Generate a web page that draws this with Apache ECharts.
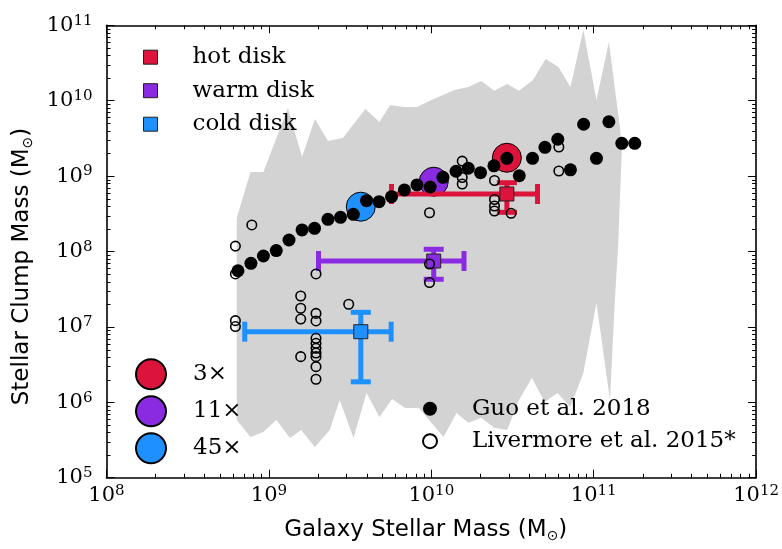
<!DOCTYPE html>
<html><head><meta charset="utf-8">
<script src="https://cdn.jsdelivr.net/npm/echarts@6/dist/echarts.min.js"></script>
<style>html,body{margin:0;padding:0;background:#fff}#c{width:782px;height:549px}</style>
</head><body><div id="c"></div>
<script>
// ---------- data ----------
const xDecades = [8, 9, 10, 11, 12];
const yDecades = [5, 6, 7, 8, 9, 10, 11];
const minorSteps = [2, 3, 4, 5, 6, 7, 8, 9];

// grey envelope (upper edge left->right, then lower edge left->right)
const bandUpperMass  = [6.34e8, 7.7e8, 9.25e8, 1.31e9, 1.6e9, 1.92e9, 2.31e9, 2.85e9, 3.93e9, 4.79e9, 5.58e9, 6.8e9, 8.2e9, 1.0e10, 1.39e10, 1.69e10, 2.03e10, 2.44e10, 2.93e10, 3.47e10, 4.22e10, 5.06e10, 6.07e10, 7.19e10, 8.63e10, 1.04e11, 1.24e11, 1.45e11, 1.49e11, 1.41e11, 1.35e11];
const bandUpperClump = [2.78e8, 1.13e9, 1.13e9, 8.0e9, 1.79e9, 5.7e9, 2.92e9, 3.2e9, 7.76e9, 5.2e9, 8.77e9, 8.25e9, 8.25e9, 1.02e10, 1.39e10, 1.52e10, 1.83e10, 1.35e10, 1.67e10, 1.35e10, 1.88e10, 3.57e10, 2.8e10, 1.52e10, 8.67e10, 1.02e10, 6.0e10, 4.48e9, 2.22e9, 1.05e8, 2.28e7];
const bandLowerMass  = [6.34e8, 7.7e8, 9.25e8, 1.11e9, 1.35e9, 1.58e9, 1.92e9, 2.37e9, 2.73e9, 3.32e9, 3.99e9, 4.79e9, 5.74e9, 6.89e9, 8.39e9, 1.0e10, 1.19e10, 1.43e10, 1.69e10, 2.03e10, 2.44e10, 2.93e10, 3.47e10, 4.16e10, 4.99e10, 5.98e10, 7.19e10, 8.63e10, 1.04e11, 1.26e11];
const bandLowerClump = [5.82e5, 3.47e5, 4.04e5, 5.82e5, 3.36e5, 4.3e5, 2.55e5, 4.3e5, 1.07e6, 3.36e5, 1.33e6, 6.38e5, 1.11e6, 8.4e5, 8.4e5, 5.34e5, 3.47e5, 7.22e5, 5.34e5, 6.22e5, 4.58e5, 4.3e5, 1.07e6, 2.1e6, 1.01e6, 1.33e6, 8.67e5, 2.45e6, 2.07e7, 1.07e6];

// Guo et al. 2018
const guoMass  = [6.45e8, 7.75e8, 9.25e8, 1.11e9, 1.33e9, 1.60e9, 1.91e9, 2.31e9, 2.76e9, 3.31e9, 3.99e9, 4.77e9, 5.69e9, 6.83e9, 8.16e9, 9.84e9, 1.18e10, 1.42e10, 1.69e10, 2.01e10, 2.43e10, 2.92e10, 3.48e10, 4.20e10, 5.01e10, 6.01e10, 7.19e10, 8.67e10, 1.04e11, 1.24e11, 1.49e11, 1.79e11];
const guoClump = [5.56e7, 6.97e7, 8.71e7, 1.03e8, 1.42e8, 1.93e8, 2.03e8, 2.67e8, 2.84e8, 3.11e8, 4.72e8, 4.58e8, 5.33e8, 6.55e8, 7.63e8, 7.17e8, 9.64e8, 1.16e9, 1.27e9, 1.11e9, 1.37e9, 1.72e9, 1.01e9, 1.72e9, 2.41e9, 3.08e9, 1.21e9, 4.87e9, 1.72e9, 5.26e9, 2.72e9, 2.72e9];

// Livermore et al. 2015*
const livMass  = [7.85e8, 6.22e8, 6.22e8, 6.22e8, 6.22e8, 1.57e9, 1.57e9, 1.57e9, 1.57e9, 1.95e9, 1.95e9, 1.95e9, 1.95e9, 1.95e9, 1.95e9, 1.95e9, 1.95e9, 1.95e9, 1.95e9, 3.10e9, 9.75e9, 9.75e9, 9.75e9, 1.55e10, 1.55e10, 1.55e10, 2.45e10, 2.45e10, 2.45e10, 2.45e10, 3.10e10, 6.10e10, 6.10e10];
const livClump = [2.25e8, 1.18e8, 5.04e7, 1.21e7, 1.01e7, 2.57e7, 1.77e7, 1.27e7, 4.03e6, 5.04e7, 1.51e7, 1.20e7, 7.06e6, 6.06e6, 5.2e6, 4.51e6, 4.03e6, 2.97e6, 2.02e6, 2.0e7, 3.27e8, 6.83e7, 3.88e7, 1.58e9, 9.57e8, 7.85e8, 8.74e8, 4.9e8, 4.01e8, 3.44e8, 3.21e8, 2.43e9, 1.17e9];

// disk samples with error bars
const diskNames   = ['hot disk', 'warm disk', 'cold disk'];
const diskMass    = [2.92e10, 1.035e10, 3.68e9];
const diskClump   = [5.79e8, 7.48e7, 8.63e6];
const diskMassLo  = [5.69e9, 2.02e9, 7.1e8];
const diskMassHi  = [4.51e10, 1.59e10, 5.66e9];
const diskClumpLo = [3.31e8, 4.28e7, 1.87e6];
const diskClumpHi = [8.17e8, 1.07e8, 1.56e7];

// stacked clumps (big circles)
const stackNames = ['3×', '11×', '45×'];
const stackMass  = [2.92e10, 1.035e10, 3.68e9];
const stackClump = [1.75e9, 8.43e8, 3.93e8];

// ---------- styles ----------
const palette = ['#DC143C', '#8A2BE2', '#1E90FF'];
const SERIF = 'DejaVu Serif';
const SANS = 'DejaVu Sans';

const tickRich = {
  b: {fontFamily: SERIF, fontSize: 21, color: '#000', lineHeight: 24},
  s: {fontFamily: SERIF, fontSize: 15, color: '#000', verticalAlign: 'top', lineHeight: 15}
};
function decadeLabel(v) {
  const e = Math.round(Math.log10(v));
  return '{b|10}{s|' + e + '}';
}

function bandRenderer(params, api) {
  const pts = [];
  for (let i = 0; i < bandUpperMass.length; i++) pts.push(api.coord([bandUpperMass[i], bandUpperClump[i]]));
  for (let i = bandLowerMass.length - 1; i >= 0; i--) pts.push(api.coord([bandLowerMass[i], bandLowerClump[i]]));
  return {type: 'polygon', shape: {points: pts}, style: {fill: '#D3D3D3'}};
}

function minorTickRenderer(params, api) {
  const cs = params.coordSys;
  const st = {stroke: '#000', lineWidth: 1};
  const ch = [];
  const L = 4;
  for (let k = 0; k < xDecades.length - 1; k++) {
    for (const m of minorSteps) {
      const px = Math.round(api.coord([m * Math.pow(10, xDecades[k]), 1e8])[0]) + 0.5;
      ch.push({type: 'line', shape: {x1: px, y1: cs.y + cs.height, x2: px, y2: cs.y + cs.height - L}, style: st});
      ch.push({type: 'line', shape: {x1: px, y1: cs.y, x2: px, y2: cs.y + L}, style: st});
    }
  }
  for (let k = 0; k < yDecades.length - 1; k++) {
    for (const m of minorSteps) {
      const py = Math.round(api.coord([1e10, m * Math.pow(10, yDecades[k])])[1]) + 0.5;
      ch.push({type: 'line', shape: {x1: cs.x, y1: py, x2: cs.x + L, y2: py}, style: st});
      ch.push({type: 'line', shape: {x1: cs.x + cs.width, y1: py, x2: cs.x + cs.width - L, y2: py}, style: st});
    }
  }
  return {type: 'group', children: ch};
}

function errorBarRenderer(params, api) {
  const x = api.value(0), y = api.value(1);
  const c = api.coord([x, y]);
  const pL = api.coord([api.value(2), y]);
  const pR = api.coord([api.value(3), y]);
  const pB = api.coord([x, api.value(4)]);
  const pT = api.coord([x, api.value(5)]);
  const color = api.visual('color');
  const cap = 10, sq = 14;
  const ls = {stroke: color, lineWidth: 5};
  return {type: 'group', children: [
    {type: 'line', shape: {x1: pL[0], y1: c[1], x2: pR[0], y2: c[1]}, style: ls},
    {type: 'line', shape: {x1: pL[0], y1: c[1] - cap, x2: pL[0], y2: c[1] + cap}, style: ls},
    {type: 'line', shape: {x1: pR[0], y1: c[1] - cap, x2: pR[0], y2: c[1] + cap}, style: ls},
    {type: 'line', shape: {x1: c[0], y1: pT[1], x2: c[0], y2: pB[1]}, style: ls},
    {type: 'line', shape: {x1: c[0] - cap, y1: pT[1], x2: c[0] + cap, y2: pT[1]}, style: ls},
    {type: 'line', shape: {x1: c[0] - cap, y1: pB[1], x2: c[0] + cap, y2: pB[1]}, style: ls},
    {type: 'rect', shape: {x: c[0] - sq / 2, y: c[1] - sq / 2, width: sq, height: sq}, style: {fill: color, stroke: '#222', lineWidth: 1}}
  ]};
}

const series = [];
series.push({type: 'custom', name: 'band', renderItem: bandRenderer, data: [[1e10, 1e8]], z: 1, silent: true});

stackNames.forEach((n, i) => series.push({
  type: 'scatter', name: n, data: [[stackMass[i], stackClump[i]]], symbol: 'circle', symbolSize: 29,
  itemStyle: {color: palette[i], borderColor: '#000', borderWidth: 1, opacity: 1}, z: 3
}));

diskNames.forEach((n, i) => series.push({
  type: 'custom', name: n, renderItem: errorBarRenderer,
  data: [[diskMass[i], diskClump[i], diskMassLo[i], diskMassHi[i], diskClumpLo[i], diskClumpHi[i]]],
  encode: {x: [0, 2, 3], y: [1, 4, 5]},
  itemStyle: {color: palette[i]}, z: 4
}));

series.push({
  type: 'scatter', name: 'Guo et al. 2018', data: guoMass.map((m, i) => [m, guoClump[i]]),
  symbol: 'circle', symbolSize: 13, itemStyle: {color: '#000', opacity: 1}, z: 6
});
series.push({
  type: 'scatter', name: 'Livermore et al. 2015*', data: livMass.map((m, i) => [m, livClump[i]]),
  symbol: 'circle', symbolSize: 9.5, itemStyle: {color: 'rgba(0,0,0,0)', borderColor: '#000', borderWidth: 1.6, opacity: 1}, z: 5
});
series.push({type: 'custom', name: 'minor', renderItem: minorTickRenderer, data: [[1e10, 1e8]], z: 10, silent: true});

function legendFmt() {
  return function (name) { return '{g|}{t|' + name + '}'; };
}
function legendRich(gap) {
  return {g: {width: gap}, t: {fontFamily: SERIF, fontSize: 23, color: '#000', lineHeight: 24}};
}

const axisCommon = {
  type: 'log', logBase: 10,
  splitLine: {show: false},
  minorTick: {show: false},
  axisLine: {lineStyle: {color: '#000', width: 1.6}},
  axisTick: {inside: true, length: 8, lineStyle: {color: '#000', width: 1}}
};

const nameRich = {
  n: {fontFamily: SANS, fontSize: 23, color: '#000', lineHeight: 28},
  u: {fontFamily: SANS, fontSize: 14, color: '#000', verticalAlign: 'bottom', lineHeight: 14}
};

const option = {
  animation: false,
  backgroundColor: '#fff',
  grid: {left: 106.5, right: 19.5, top: 25.3, bottom: 71.3, containLabel: false},
  xAxis: [
    Object.assign({}, axisCommon, {
      min: 1e8, max: 1e12, splitNumber: 4, position: 'bottom',
      axisLabel: {formatter: decadeLabel, rich: tickRich, margin: 6, showMinLabel: true, showMaxLabel: true},
      name: '{n|Galaxy Stellar Mass (M}{u|⊙}{n|)}', nameLocation: 'middle', nameGap: 38,
      nameTextStyle: {rich: nameRich, padding: [0, 11, 0, 0]}
    }),
    Object.assign({}, axisCommon, {min: 1e8, max: 1e12, splitNumber: 4, position: 'top', axisLabel: {show: false}})
  ],
  yAxis: [
    Object.assign({}, axisCommon, {
      min: 1e5, max: 1e11, splitNumber: 6, position: 'left',
      axisLabel: {formatter: decadeLabel, rich: tickRich, margin: 14, showMinLabel: true, showMaxLabel: true},
      name: '{n|Stellar Clump Mass (M}{u|⊙}{n|)}', nameLocation: 'middle', nameGap: 68, nameRotate: 90,
      nameTextStyle: {rich: nameRich, padding: [0, 30, 0, 0]}
    }),
    Object.assign({}, axisCommon, {min: 1e5, max: 1e11, splitNumber: 6, position: 'right', axisLabel: {show: false}})
  ],
  legend: [
    {
      orient: 'vertical', left: 143, top: 45.7, padding: 0, itemGap: 10.5,
      itemWidth: 14, itemHeight: 14, selectedMode: false,
      data: diskNames.map((n, i) => ({name: n, icon: 'rect', itemStyle: {color: palette[i], borderColor: '#222', borderWidth: 1}})),
      formatter: legendFmt(), textStyle: {rich: legendRich(30)}
    },
    {
      orient: 'vertical', left: 135, top: 358.3, padding: 0, itemGap: 5,
      itemWidth: 30, itemHeight: 30, selectedMode: false,
      data: stackNames.map(n => ({name: n, icon: 'circle'})),
      formatter: legendFmt(), textStyle: {rich: legendRich(22)}
    },
    {
      orient: 'vertical', left: 422, top: 397.3, padding: 0, itemGap: 9.4,
      itemWidth: 14, itemHeight: 14, selectedMode: false,
      data: [{name: 'Guo et al. 2018', icon: 'circle'}, {name: 'Livermore et al. 2015*', icon: 'circle'}],
      formatter: legendFmt(), textStyle: {rich: legendRich(30)}
    }
  ],
  series: series
};

const chart = echarts.init(document.getElementById('c'), null, {renderer: 'canvas'});
chart.setOption(option);
</script>
</body></html>
